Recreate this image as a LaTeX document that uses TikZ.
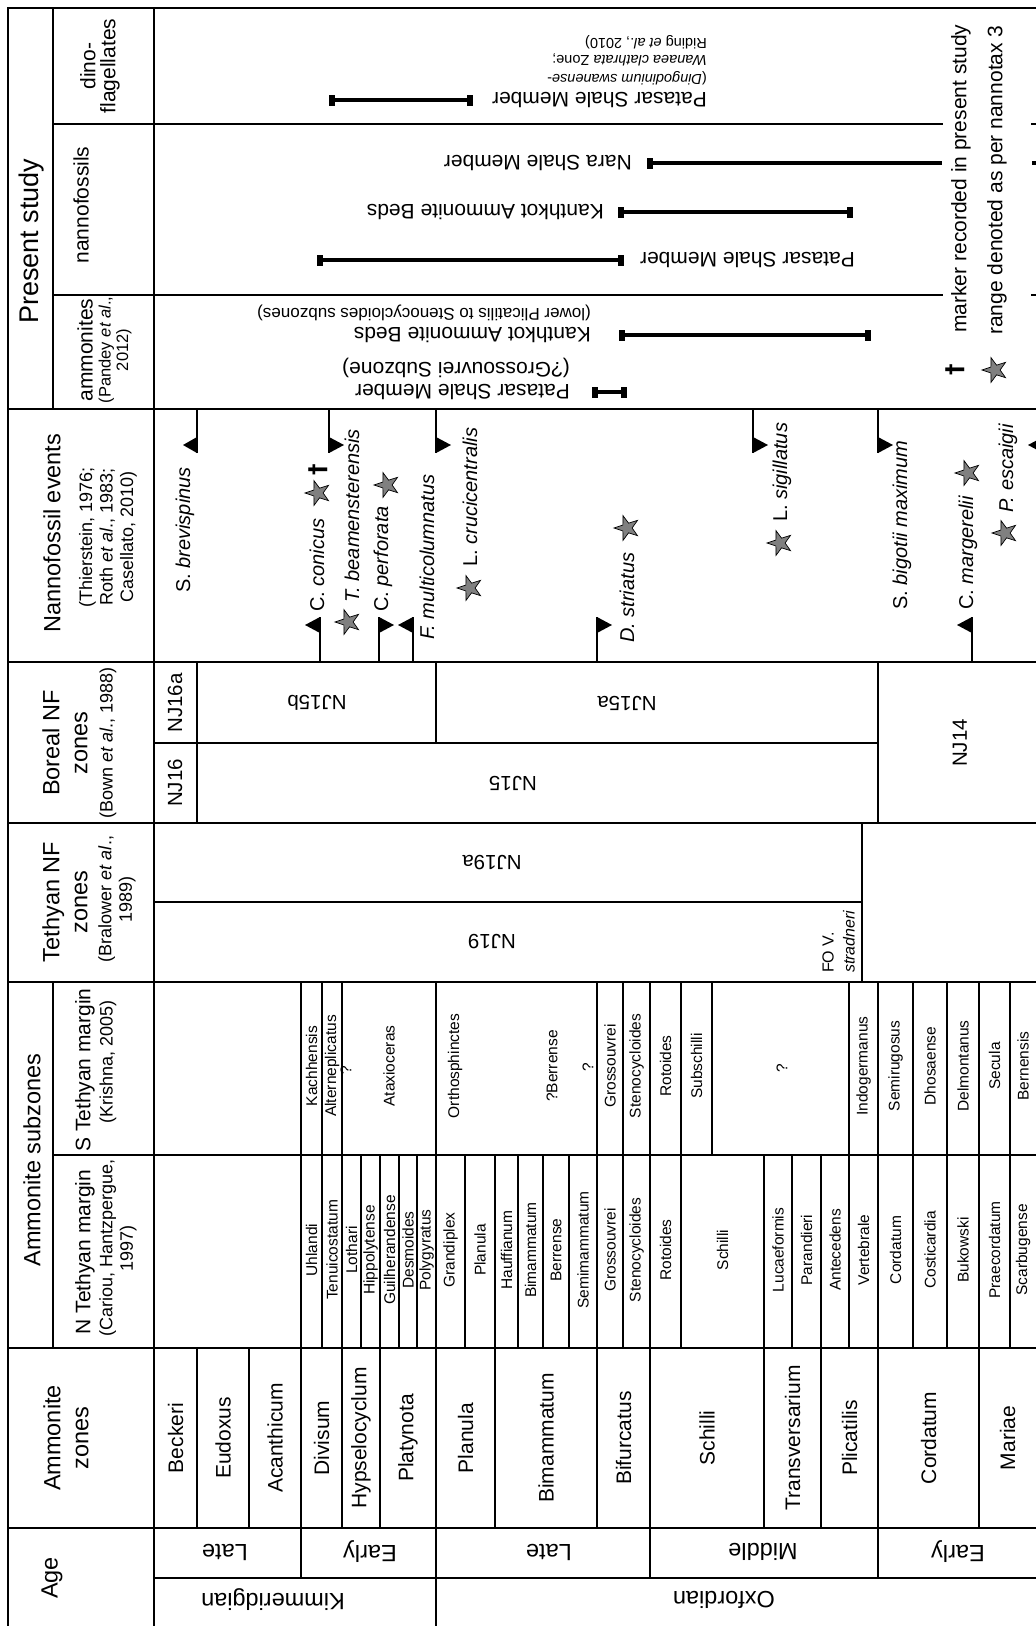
\documentclass[tikz,border=0pt]{standalone}
\usepackage{fontspec}
\setmainfont{Liberation Sans}
\newfontfamily\djv{DejaVu Sans}
\usetikzlibrary{shapes.geometric}
\definecolor{starg}{gray}{0.5}
\newcommand\rbar[3]{%
  \draw[bar] (#1,#3) -- (#2,#3);
  \fill (#1-2.75,#3-5.5) rectangle (#1+2.75,#3+5.5);
  \fill (#2-2.75,#3-5.5) rectangle (#2+2.75,#3+5.5);}
\newcommand\evtop[2]{%
  \draw[fl] (#1,409) -- (#1,453);
  \fill (#1,437) -- (#2,445) -- (#1,453) -- cycle;}
\newcommand\evbot[2]{%
  \draw[fl] (#1,662) -- (#1,617);
  \fill (#1,617) -- (#2,625) -- (#1,633) -- cycle;}
\begin{document}
\begin{tikzpicture}[x=1pt,y=-1pt,
  grid/.style={line width=1.3pt, line cap=rect},
  hd/.style={rotate=90, align=center, inner sep=0, font=\fontsize{23.5}{28}\selectfont},
  sh/.style={rotate=90, align=center, inner sep=0, font=\fontsize{21}{20}\selectfont},
  rf/.style={rotate=90, align=center, inner sep=0, font=\fontsize{18}{20.5}\selectfont},
  rfs/.style={rotate=90, align=center, inner sep=0, font=\fontsize{16.5}{17.5}\selectfont},
  zn/.style={rotate=90, inner sep=0, font=\fontsize{21}{24}\selectfont},
  sz/.style={rotate=90, inner sep=0, font=\fontsize{15.5}{18}\selectfont},
  ag/.style={rotate=180, inner sep=0, font=\fontsize{23.5}{28}\selectfont},
  njv/.style={rotate=90, inner sep=0, font=\fontsize{20.5}{24}\selectfont},
  njh/.style={rotate=180, inner sep=0, font=\fontsize{20.5}{24}\selectfont},
  ev/.style={rotate=90, anchor=west, inner sep=0, font=\fontsize{20}{24}\selectfont},
  ps/.style={rotate=180, anchor=west, inner sep=0, font=\fontsize{21}{24}\selectfont},
  pssm/.style={rotate=180, anchor=west, inner sep=0, font=\fontsize{17}{20}\selectfont},
  psxs/.style={rotate=180, anchor=west, inner sep=0, font=\fontsize{14.5}{17}\selectfont},
  lg/.style={rotate=90, anchor=west, inner sep=0, font=\fontsize{21}{24}\selectfont},
  dag/.style={rotate=90, inner sep=0, font=\fontsize{23}{24}\djv\bfseries},
  fl/.style={line width=2.1pt},
  bar/.style={line width=3.8pt},
  st/.style={star, star points=5, star point ratio=2.55, draw=black, line width=0.7pt,
    fill=starg, minimum size=26pt, inner sep=0pt, shape border rotate=90},
]
\useasboundingbox (0,0) rectangle (1036,1626);
\fill[white] (0,0) rectangle (1036,1626);
\clip (0,0) rectangle (1036,1626);

% ---------- grid ----------
\draw[grid] (8,8) -- (1036,8);
\draw[grid] (8,8) -- (8,1626);
\draw[grid] (154,8) -- (154,1626);
\draw[grid] (53,8) -- (53,409);
\draw[grid] (53,982) -- (53,1348);
\foreach \yy in {409,662,823,982,1348,1528} \draw[grid] (8,\yy) -- (1036,\yy);
\draw[grid] (154,1578) -- (1036,1578);
\foreach \yy in {124,295} {\draw[grid] (53,\yy) -- (942,\yy); \draw[grid] (1032,\yy) -- (1036,\yy);}
\draw[grid] (53,1155) -- (1036,1155);
\draw[grid] (154,743) -- (878,743);
\draw[grid] (154,902) -- (862,902);
\foreach \xx in {197,249,301,342,380,436,495,597,650,764,821,878,979} \draw[grid] (\xx,1348) -- (\xx,1528);
\foreach \xx in {301,436,650,878} \draw[grid] (\xx,1528) -- (\xx,1578);
\draw[grid] (436,1578) -- (436,1626);
\foreach \xx in {301,322,342,361,380,399,417,436,465,495,518,543,569,597,623,650,681,764,792,821,849,878,913,947,979,1010}
  \draw[grid] (\xx,1155) -- (\xx,1348);
\foreach \xx in {301,322,342,436,597,623,650,681,712,849,878,913,947,979,1010}
  \draw[grid] (\xx,982) -- (\xx,1155);
\draw[grid] (862,823) -- (862,982);
\draw[grid] (197,662) -- (197,823);
\draw[grid] (436,662) -- (436,743);
\draw[grid] (878,662) -- (878,823);

% ---------- headers ----------
\node[hd] (hAge) at (52,1578) {Age};
\node[hd] (hAz) at (66,1438) {Ammonite\\zones};
\node[hd] (hAs) at (32,1160) {Ammonite subzones};
\node[sh] (hN) at (85,1252) {N Tethyan margin};
\node[rf] (hNr) at (118,1248) {(Cariou, Hantzpergue,\\1997)};
\node[sh] (hS) at (85,1070) {S Tethyan margin};
\node[rf] (hSr) at (108,1062) {(Krishna, 2005)};
\node[hd] (hT) at (65,902) {Tethyan NF\\zones};
\node[rf] (hTr) at (117,899) {(Bralower \textit{et al}.,\\1989)};
\node[hd] (hB) at (65,743) {Boreal NF\\zones};
\node[rf] (hBr) at (108,743) {(Bown \textit{et al}., 1988)};
\node[hd] (hE) at (52,533) {Nannofossil events};
\node[rf] (hEr) at (108,537) {(Thierstein, 1976;\\Roth \textit{et al}., 1983;\\Casellato, 2010)};
\node[rotate=90, inner sep=0, font=\fontsize{27}{32}\selectfont] (hP) at (32,241) {Present study};
\node[sh] (hDi) at (100,66) {dino-\\flagellates};
\node[sh] (hNa) at (81,205) {nannofossils};
\node[sh] (hAm) at (85,350) {ammonites};
\node[rfs] (hAmr) at (115,350) {(Pandey \textit{et al}.,\\2012)};

% ---------- age ----------
\node[ag] (a1) at (225,1552) {Late};
\node[ag] (a2) at (370,1552) {Early};
\node[ag] (a3) at (549,1552) {Late};
\node[ag] (a4) at (763,1552) {Middle};
\node[ag] (a5) at (958,1552) {Early};
\node[ag] (a6) at (273,1600) {Kimmeridgian};
\node[ag] (a7) at (724,1600) {Oxfordian};

% ---------- ammonite zones ----------
\foreach \xx/\tt [count=\i] in {175.5/Beckeri,223/Eudoxus,275/Acanthicum,321.5/Divisum,361/Hypselocyclum,408/Platynota,465.5/Planula,546/Bimammatum,623.5/Bifurcatus,707/Schilli,792.5/Transversarium,849.5/Plicatilis,928.5/Cordatum,1007.5/Mariae}
  \node[zn] (z\i) at (\xx,1438) {\tt};

% ---------- N Tethyan subzones ----------
\foreach \xx/\tt [count=\i] in {311.5/Uhlandi,332/Tenuicostatum,351.5/Lothari,370.5/Hippolytense,389.5/Guilherandense,408/Desmoides,426.5/Polygyratus,450.5/Grandiplex,480/Planula,506.5/Hauffianum,530.5/Bimammatum,556/Berrense,583/Semimammatum,610/Grossouvrei,636.5/Stenocycloides,665.5/Rotoides,722.5/Schilli,778/Lucaeformis,806.5/Parandieri,835/Antecedens,863.5/Vertebrale,895.5/Cordatum,930/Costicardia,963/Bukowski,994.5/Praecordatum,1023/Scarbugense}
  \node[sz] (n\i) at (\xx,1250) {\tt};

% ---------- S Tethyan subzones ----------
\foreach \xx/\tt [count=\i] in {311.5/Kachhensis,332/Alterneplicatus,389/Ataxioceras,455/Orthosphinctes,552/?Berrense,610/Grossouvrei,636.5/Stenocycloides,665.5/Rotoides,696.5/Subschilli,863.5/Indogermanus,895.5/Semirugosus,930/Dhosaense,963/Delmontanus,994.5/Secula,1023/Bernensis}
  \node[sz] (s\i) at (\xx,1066) {\tt};
\node[sz] (sq1) at (346,1070) {?};
\node[sz] (sq2) at (588,1067) {?};
\node[sz] (sq3) at (782,1068) {?};

% ---------- NF zones ----------
\node[njv] (nj16a) at (175,703) {NJ16a};
\node[njv] (nj16) at (175,783) {NJ16};
\node[njh] (nj15b) at (317,703) {NJ15b};
\node[njh] (nj15a) at (627,703) {NJ15a};
\node[njh] (nj15) at (513,783) {NJ15};
\node[njv] (nj14) at (960,743) {NJ14};
\node[njh] (nj19a) at (492,863) {NJ19a};
\node[njh] (nj19) at (492,942) {NJ19};
\node[rotate=90, anchor=west, inner sep=0, font=\fontsize{16}{18}\selectfont] (fo1) at (828,973) {FO V.};
\node[rotate=90, anchor=west, inner sep=0, font=\fontsize{16}{18}\selectfont\itshape] (fo2) at (849,973) {stradneri};

% ---------- nannofossil events ----------
\evtop{197}{183}
\evtop{329}{344}
\evtop{436}{451}
\evtop{753}{768}
\evtop{878}{893}
\evtop{1043}{1028}
\evbot{320}{305}
\evbot{379}{394}
\evbot{413}{398}
\evbot{597}{612}
\evbot{972}{957}
\node[ev] (ev1) at (185,593) {S. \textit{brevispinus}};
\node[ev] (ev2) at (317,612) {C. \textit{conicus}};
\node[ev] (ev3) at (352,603) {\textit{T. beamensterensis}};
\node[ev] (ev4) at (383,612) {C. \textit{perforata}};
\node[ev] (ev5) at (427,640) {\textit{F. multicolumnatus}};
\node[ev] (ev6) at (470,567) {L. \textit{crucicentralis}};
\node[ev] (ev7) at (627,643) {\textit{D. striatus}};
\node[ev] (ev8) at (782,522) {L. \textit{sigillatus}};
\node[ev] (ev9) at (902,610) {S. \textit{bigotii maximum}};
\node[ev] (ev10) at (968,610) {C. \textit{margerelii}};
\node[ev] (ev11) at (1008,513) {\textit{P. escaigii}};
\node[st] (st1) at (318,493) {};
\node[dag] (dg1) at (318,470) {†};
\node[st] (st2) at (348,622) {};
\node[st] (st3) at (387,485) {};
\node[st] (st4) at (470,588) {};
\node[st] (st5) at (627,528) {};
\node[st] (st6) at (780,543) {};
\node[st] (st7) at (968,473) {};
\node[st] (st8) at (1005,533) {};

% ---------- present study ----------
\rbar{332}{470}{100}
\node[ps] (pd1) at (707,100) {Patasar Shale Member};
\node[psxs] (pd2) at (707,78) {(\textit{Dingodinium swanense}-};
\node[psxs] (pd3) at (707,60) {\textit{Wanaea clathrata} Zone;};
\node[psxs] (pd4) at (707,42) {Riding \textit{et al}., 2010)};

\draw[bar] (650,163) -- (942,163);
\draw[bar] (1032,163) -- (1036,163);
\fill (647.25,157.5) rectangle (652.75,168.5);
\node[ps] (pn1) at (632,163) {Nara Shale Member};
\rbar{621}{850}{212}
\node[ps] (pn2) at (604,212) {Kanthkot Ammonite Beds};
\rbar{320}{621}{260}
\node[ps] (pn3) at (855,260) {Patasar Shale Member};

\node[pssm] (pa1) at (591,313) {(lower Plicatilis to Stenocycloides subzones)};
\node[ps] (pa2) at (591,335) {Kanthkot Ammonite Beds};
\rbar{622}{868}{335}
\node[ps] (pa3) at (570,368) {(?Grossouvrei Subzone)};
\node[ps] (pa4) at (570,392) {Patasar Shale Member};
\rbar{595}{624}{392}

% ---------- legend ----------
\node[lg] (lg1) at (961,333) {marker recorded in present study};
\node[lg] (lg2) at (997,335) {range denoted as per nannotax 3};
\node[dag] (lgd) at (955,370) {†};
\node[st] (lgs) at (995,370) {};
\end{tikzpicture}
\end{document}
